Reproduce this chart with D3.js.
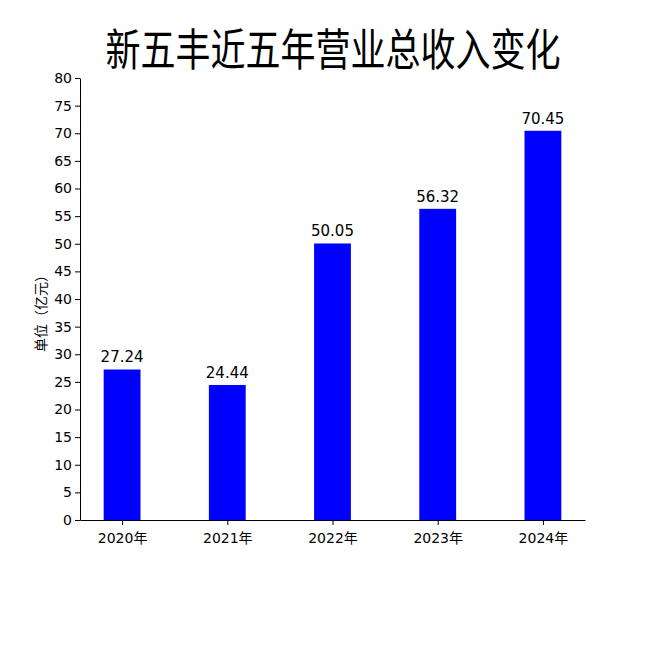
<!DOCTYPE html>
<html><head><meta charset="utf-8">
<script src="https://cdn.jsdelivr.net/npm/d3@7"></script>
<style>body{margin:0;background:#fff}text{font-family:"DejaVu Sans","Noto Sans CJK SC",sans-serif}</style>
</head><body>
<svg id="c" width="650" height="650"></svg>
<script>
const categories=["2020年","2021年","2022年","2023年","2024年"];
const values=[27.24,24.44,50.05,56.32,70.45];
const yTicks=d3.range(0,81,5);
const svg=d3.select("#c");
const x=d3.scaleLinear().domain([-0.4,4.4]).range([80,585]);
const y=d3.scaleLinear().domain([0,80]).range([520,78]);
const bw=x(0.35)-x(0);
svg.append("text").attr("x",333).attr("y",66).attr("text-anchor","middle")
 .attr("textLength",455).attr("lengthAdjust","spacingAndGlyphs")
 .style("font-family","'Noto Sans CJK SC'").style("font-size","44px").text("新五丰近五年营业总收入变化");
svg.selectAll("rect.b").data(values).join("rect").attr("fill","#0000ff")
 .attr("x",(d,i)=>x(i)-bw/2).attr("width",bw).attr("y",d=>y(d)).attr("height",d=>y(0)-y(d));
svg.selectAll("text.v").data(values).join("text").attr("text-anchor","middle")
 .attr("x",(d,i)=>x(i)).attr("y",d=>y(d)-7).style("font-size","15px").text(d=>d.toFixed(2));
const ga=svg.append("g").attr("transform","translate(80,0)").call(d3.axisLeft(y).tickValues(yTicks).tickSize(5).tickSizeOuter(0));
const gx=svg.append("g").attr("transform","translate(0,520)").call(d3.axisBottom(x).tickValues([0,1,2,3,4]).tickFormat(i=>categories[i]).tickSize(5).tickSizeOuter(0));
[ga,gx].forEach(g=>{g.selectAll("text").style("font-size","14px").style("font-family","'DejaVu Sans','Noto Sans CJK SC'").attr("fill","#000");g.selectAll("path,line").attr("stroke","#000")});
gx.selectAll("text").attr("dy","1.1em");
svg.append("text").attr("transform","translate(46,310) rotate(-90)").attr("text-anchor","middle")
 .style("font-size","14px").style("font-family","'Noto Sans CJK SC'").text("单位（亿元）");
</script></body></html>
